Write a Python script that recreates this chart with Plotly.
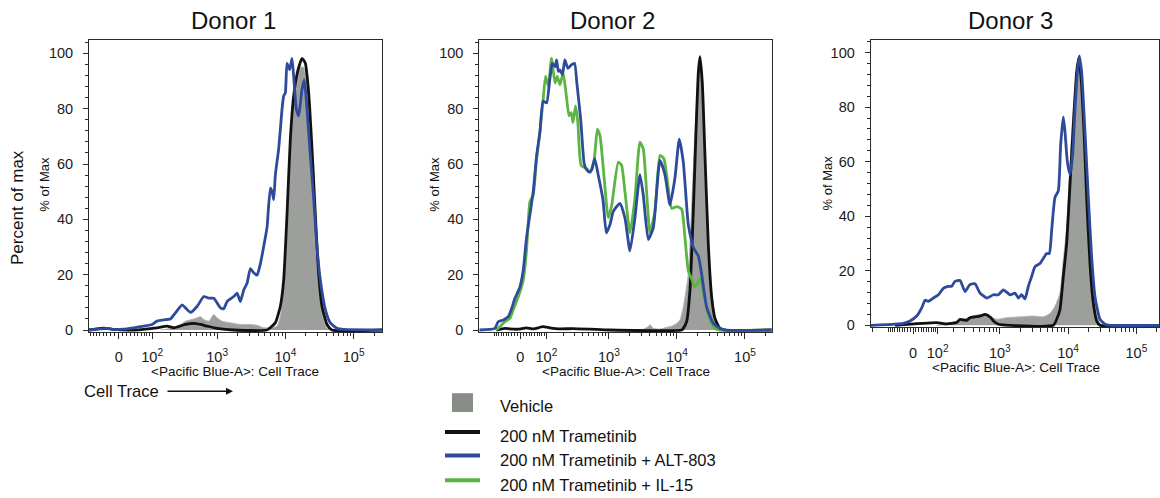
import numpy as np
import plotly.graph_objects as go

W, H = 1160, 498
FONT = "Liberation Sans, Arial, sans-serif"

# ---- transform widths (biexponential display approximated by arcsinh) ----
COF = [72.7, 100.0, 107.5]
X_RANGE = [(-86, 260000), (-188, 247000), (-211, 216500)]

donors = ["Donor 1", "Donor 2", "Donor 3"]
series_names = ["Vehicle", "200 nM Trametinib", "200 nM Trametinib + ALT-803",
                "200 nM Trametinib + IL-15"]

# ---- Donor 1 ----
d1_veh_x = [139, 226, 286, 340, 452, 570, 637, 755, 893, 999, 1182, 1565, 2193, 3072, 3845,
            4814, 6027, 7546, 8444, 9444, 10567, 11822, 13228, 14802, 16557, 18524, 20730,
            23195, 25954, 29036, 32490, 36350, 40676, 45510]
d1_veh_y = [0, 0.8, 2.0, 3.2, 4.0, 4.8, 3.8, 3.2, 5.6, 4.4, 3.2, 2.6, 2.0, 2.0, 1.7, 0.8, 0.8,
            1.4, 5.0, 14.5, 35.9, 65.6, 81.0, 89.3, 95.0, 95.0, 88.0, 74.0, 53.0, 30.0, 13.0,
            3.5, 0.6, 0]
d1_tram_x = [-86, -48, -30, -12, 38, 122, 178, 226, 340, 452, 570, 713, 999, 1751, 5386, 6376,
             7133, 8444, 9444, 10567, 11822, 13228, 15307, 17513, 19596, 21926, 24536, 27448,
             30716, 34365, 40676, 48127, 260000]
d1_tram_y = [0, 0.6, 0.6, 0.2, 0, 0.8, 1.4, 0.8, 2.0, 2.4, 2.0, 1.4, 0.6, 0, 0, 1.4, 2.6, 8.6,
             18.1, 41.8, 69.0, 84.6, 94.0, 98.2, 96.4, 85.7, 65.6, 41.8, 20.4, 8.6, 2.0, 0, 0]
d1_alt_x = [-86, -48, -30, -12, 12, 38, 69, 100, 122, 178, 201, 240, 303, 340, 407, 509, 637,
            755, 893, 1118, 1250, 1399, 1751, 1960, 2193, 2454, 2745, 3072, 3437, 3845, 4303,
            5092, 5386, 6027, 6376, 6744, 7133, 7982, 8929, 9444, 9989, 10567, 11559, 12504,
            13228, 14471, 15652, 17513, 18949, 20730, 23195, 25954, 29036, 32490, 38458, 45510,
            56960, 71320, 260000]
d1_alt_y = [0, 0.4, 0.6, 0.2, 0.3, 0.8, 1.4, 2.0, 3.2, 3.8, 4.0, 6.2, 9.1, 8.0, 6.4, 8.6, 12.1,
            11.5, 11.5, 8.0, 7.7, 10.3, 12.1, 13.3, 10.3, 14.5, 16.9, 22.2, 20.7, 19.8, 24.0,
            33.5, 37.1, 51.3, 50.1, 47.1, 56.1, 65.6, 79.8, 84.6, 85.7, 96.4, 94.1, 98.2, 91.7,
            79.8, 77.4, 86.9, 90.5, 79.8, 63.2, 47.7, 29.9, 18.1, 7.4, 2.6, 0.6, 0.2, 0]

# ---- Donor 2 ----
d2_veh_x = [1627, 3201, 3792, 4012, 4492, 5630, 7055, 8356, 9900, 11082, 12405, 14692, 16447,
            18410, 20614, 21813, 23607, 25839, 28923, 32378, 36245, 40573, 48058]
d2_veh_y = [0, 0.3, 1.2, 2.0, 0.6, 0.3, 1.0, 1.4, 2.4, 3.6, 8.3, 20.2, 44.0, 71.4, 92.9, 97.6,
            88.0, 63.0, 33.3, 14.3, 4.8, 1.2, 0]
d2_tram_x = [-90, -55, -36, -7, 21, 45, 85, 117, 178, 288, 526, 1036, 11725, 12405, 13887,
             15545, 17401, 19045, 20614, 21813, 23607, 25839, 28923, 32378, 36245, 42928, 50850,
             247000]
d2_tram_y = [0, 0.6, 0.4, 0.3, 0.8, 0.4, 1.2, 0.8, 0.4, 0.5, 0.3, 0, 0, 0.6, 3.0, 14.3, 42.9,
             71.4, 92.9, 98.8, 89.3, 63.1, 31.0, 11.9, 4.2, 0.6, 0, 0]
d2_alt_x = [-188, -97, -82, -61, -42, -30, -19, -1.7, 9.6, 21, 33, 45, 58, 71, 85, 101, 117, 130,
            146, 156, 167, 178, 196, 214, 241, 271, 305, 331, 380, 428, 465, 517, 557, 615, 688,
            817, 915, 1036, 1159, 1453, 1721, 2039, 2414, 2858, 3201, 3792, 4492, 5630, 6670,
            7898, 9355, 10834, 12405, 14692, 17401, 20614, 23079, 27350, 34257, 42928, 53800,
            247000]
d2_alt_y = [0, 0.6, 3.0, 3.6, 4.8, 7.7, 11.3, 15.5, 21.4, 33.3, 41.7, 50.0, 63.1, 71.4, 82.7,
            82.1, 90.5, 96.4, 95.2, 97.6, 93.5, 94.0, 92.3, 97.6, 94.6, 95.8, 96.4, 89.3, 75.8,
            60.1, 58.0, 57.1, 58.0, 61.9, 56.5, 47.0, 35.1, 38.1, 42.9, 45.8, 40.5, 28.6, 40.5,
            56.2, 48.8, 32.7, 36.9, 61.3, 56.2, 45.2, 55.0, 69.0, 60.7, 38.1, 29.8, 26.8, 20.2,
            8.3, 2.4, 0.6, 0, 0]
d2_il15_x = [-90, -75, -55, -36, -25, -7.3, 9.6, 21, 33, 45, 58, 71, 85, 96, 110, 126, 146, 160,
             178, 201, 227, 250, 271, 288, 316, 343, 385, 465, 526, 602, 674, 738, 826, 978, 1096,
             1373, 1537, 1721, 2039, 2414, 2858, 3201, 3584, 4012, 4752, 5630, 6447, 7465, 8356,
             9900, 11725, 13125, 14692, 16447, 18410, 21813, 25839, 30603, 36245, 42928, 247000]
d2_il15_y = [0, 1.2, 3.0, 4.2, 7.1, 11.9, 17.9, 28.6, 46.4, 48.8, 61.9, 71.4, 83.3, 91.7, 88.1,
             98.2, 89.3, 91.7, 88.7, 92.9, 84.5, 77.4, 78.6, 75.0, 81.0, 75.0, 59.5, 58.3, 57.1,
             61.3, 72.6, 70.2, 58.3, 40.5, 45.0, 60.7, 59.5, 50.0, 35.1, 47.6, 67.9, 65.5, 50.0,
             35.1, 42.9, 63.1, 61.9, 51.2, 44.0, 44.6, 43.7, 33.3, 21.4, 18.5, 15.5, 18.5, 10.7,
             3.6, 0.6, 0, 0]

# ---- Donor 3 ----
d3_veh_x = [95, 131, 222, 301, 509, 720, 901, 1262, 1978, 3100, 4341, 5435, 6434, 7616, 8519,
            9535, 10669, 11933, 13352, 14448, 15803, 17678, 19780, 22134, 24757, 27703, 31003]
d3_veh_y = [0, 0.4, 1.5, 2.4, 4.0, 3.2, 2.2, 2.8, 3.1, 3.4, 3.1, 4.3, 7.0, 11.8, 23.9, 36.0,
            59.0, 79.5, 93.4, 97.0, 90.3, 71.0, 44.4, 22.7, 8.2, 1.6, 0]
d3_tram_x = [-69, 95, 150, 222, 251, 319, 357, 428, 509, 605, 720, 805, 953, 1412, 6085, 6805,
             7616, 8519, 9535, 10669, 11933, 13352, 14448, 15803, 17286, 18700, 20920, 23408,
             26192, 29305, 216500]
d3_tram_y = [0, 1.0, 0.5, 1.0, 2.2, 1.8, 2.8, 3.1, 3.4, 4.0, 3.0, 1.6, 0.4, 0, 0, 2.2, 5.8,
             17.9, 30.0, 51.7, 73.4, 92.8, 98.2, 88.0, 68.6, 46.9, 22.7, 8.2, 1.6, 0, 0]
d3_alt_x = [-211, -69, -36, -10.9, 13.3, 31.9, 44.7, 58.1, 79.6, 103.7, 131, 160.5, 183, 208,
            251, 301, 357, 428, 509, 643, 805, 953, 1128, 1412, 1672, 1870, 2092, 2341, 2619,
            2931, 3279, 3881, 4341, 4859, 5315, 5751, 6434, 7197, 7788, 8519, 9014, 9750, 10669,
            11669, 12626, 13814, 14609, 15803, 17678, 19780, 22134, 24757, 29305, 34690, 41049,
            216500]
d3_alt_y = [0, 0.4, 0.7, 1.6, 3.4, 6.4, 9.2, 8.8, 10.0, 11.2, 13.6, 14.3, 14.3, 16.1, 16.4,
            12.4, 14.9, 15.2, 11.8, 10.0, 11.2, 11.2, 13.0, 11.2, 11.8, 10.0, 11.2, 9.7, 14.3,
            17.9, 21.5, 22.7, 24.5, 26.3, 26.3, 34.8, 46.9, 49.3, 66.2, 76.4, 71.0, 60.1, 55.3,
            62.6, 79.5, 94.0, 98.8, 92.8, 71.0, 46.9, 25.1, 10.6, 2.2, 0.4, 0, 0]

# ---- x tick labels ----
major_vals = [0, 100, 1000, 10000, 100000]
major_text = ["0", "10<sup>2</sup>", "10<sup>3</sup>", "10<sup>4</sup>", "10<sup>5</sup>"]
y_ticks = [0, 20, 40, 60, 80, 100]

COL_VEH_FILL = "#9c9f9c"
COL_VEH_LINE = "#b4b7b4"
COL_TRAM = "#111111"
COL_ALT = "#2d4a9b"
COL_IL15 = "#5bb543"
AX_COL = "#2a2a2a"
CLEAR = "rgba(0,0,0,0)"

LN10 = np.log(10)


def biex(v, w):
    return np.arcsinh(np.asarray(v, dtype=float) / w) / LN10


def px(x):
    return x / W


def py(y):
    return 1 - y / H


panels = [
    dict(veh=(d1_veh_x, d1_veh_y), tram=(d1_tram_x, d1_tram_y), alt=(d1_alt_x, d1_alt_y), il15=None),
    dict(veh=(d2_veh_x, d2_veh_y), tram=(d2_tram_x, d2_tram_y), alt=(d2_alt_x, d2_alt_y),
         il15=(d2_il15_x, d2_il15_y)),
    dict(veh=(d3_veh_x, d3_veh_y), tram=(d3_tram_x, d3_tram_y), alt=(d3_alt_x, d3_alt_y), il15=None),
]

# layout geometry (pixels)
x_dom_px = [(89, 382), (479.3, 771.7), (870.7, 1159.3)]
y_dom_px = [(40, 336), (40, 336), (40, 331.2)]
y_top = [105.0, 105.0, 104.8]

fig = go.Figure()
LINE_SHAPE = dict(shape="spline", smoothing=0.5)
LW = 2.8

for i, p in enumerate(panels):
    w = COF[i]
    xa = "x" if i == 0 else f"x{i+1}"
    ya = "y" if i == 0 else f"y{i+1}"
    vx, vy = p["veh"]
    fig.add_trace(go.Scatter(x=biex(vx, w), y=vy, mode="lines", fill="tozeroy",
                             fillcolor=COL_VEH_FILL, line=dict(color=COL_VEH_LINE, width=1, **LINE_SHAPE),
                             name=series_names[0], showlegend=False, xaxis=xa, yaxis=ya))
    tx, ty = p["tram"]
    fig.add_trace(go.Scatter(x=biex(tx, w), y=ty, mode="lines",
                             line=dict(color=COL_TRAM, width=LW, **LINE_SHAPE),
                             name=series_names[1], showlegend=False, xaxis=xa, yaxis=ya))
    if p["il15"] is not None:
        gx, gy = p["il15"]
        fig.add_trace(go.Scatter(x=biex(gx, w), y=gy, mode="lines",
                                 line=dict(color=COL_IL15, width=LW, **LINE_SHAPE),
                                 name=series_names[3], showlegend=False, xaxis=xa, yaxis=ya))
    bx, by = p["alt"]
    fig.add_trace(go.Scatter(x=biex(bx, w), y=by, mode="lines",
                             line=dict(color=COL_ALT, width=LW, **LINE_SHAPE),
                             name=series_names[2], showlegend=False, xaxis=xa, yaxis=ya))

    lo, hi = X_RANGE[i]
    minor_vals = []
    for k in range(1, 6):
        for m in range(1, 10):
            for s in (1, -1):
                v = s * m * 10 ** k
                if lo < v < hi and v not in major_vals:
                    minor_vals.append(v)
    xd = x_dom_px[i]
    yd = y_dom_px[i]
    xr = [float(biex(lo, w)), float(biex(hi, w))]
    yr = [-0.7, y_top[i]]
    xmaj = [float(v) for v in biex(major_vals, w)]
    xmin = [float(v) for v in biex(minor_vals, w)]
    tickfont = dict(family=FONT, size=14.5, color="#1a1a1a")

    # main axes: frame + tick labels (ticks transparent, longer to push labels out)
    xkey = "xaxis" if i == 0 else f"xaxis{i+1}"
    ykey = "yaxis" if i == 0 else f"yaxis{i+1}"
    fig.update_layout(**{
        xkey: dict(domain=[px(xd[0]), px(xd[1])], anchor=ya, range=xr,
                   showline=True, linecolor=AX_COL, linewidth=1, mirror=True,
                   showgrid=False, zeroline=False,
                   tickmode="array", tickvals=xmaj, ticktext=major_text,
                   ticks="outside", ticklen=12, tickcolor=CLEAR, tickfont=tickfont),
        ykey: dict(domain=[py(yd[1]), py(yd[0])], anchor=xa, range=yr,
                   showline=True, linecolor=AX_COL, linewidth=1, mirror=True,
                   showgrid=False, zeroline=False,
                   tickmode="array", tickvals=y_ticks,
                   ticks="outside", ticklen=12, tickcolor=CLEAR, tickfont=tickfont),
    })
    # overlay axes: visible major + minor tick marks
    xo_name, yo_name = f"x{i+4}", f"y{i+4}"
    fig.update_layout(**{
        f"xaxis{i+4}": dict(overlaying=xa, anchor=yo_name, range=xr, showline=False,
                            showgrid=False, zeroline=False, showticklabels=False,
                            tickmode="array", tickvals=xmaj, ticks="outside", ticklen=6,
                            tickwidth=1, tickcolor=AX_COL,
                            minor=dict(tickmode="array", tickvals=xmin, ticklen=3.5, tickwidth=1,
                                       tickcolor=AX_COL, ticks="outside")),
        f"yaxis{i+4}": dict(overlaying=ya, anchor=xo_name, range=yr, showline=False,
                            showgrid=False, zeroline=False, showticklabels=False,
                            tickmode="array", tickvals=y_ticks, ticks="outside", ticklen=5,
                            tickwidth=1, tickcolor=AX_COL,
                            minor=dict(dtick=4, tick0=0, ticklen=3, tickwidth=1, tickcolor=AX_COL,
                                       ticks="outside")),
    })
    # invisible carrier so the tick-mark axes are drawn
    fig.add_trace(go.Scatter(x=[xr[0]], y=[yr[0]], mode="markers", marker=dict(opacity=0),
                             hoverinfo="skip", showlegend=False, xaxis=xo_name, yaxis=yo_name))

annotations = []
title_pos = [(233.3, 21), (612.5, 21), (1010.8, 21)]
for t, (x, y) in zip(donors, title_pos):
    annotations.append(dict(text=t, x=px(x), y=py(y), xref="paper", yref="paper",
                            xanchor="center", yanchor="middle", showarrow=False,
                            font=dict(family=FONT, size=24, color="#111111")))
ylab_pos = [(45, 187), (435, 187), (827.7, 185)]
for (x, y) in ylab_pos:
    annotations.append(dict(text="% of Max", x=px(x), y=py(y), xref="paper", yref="paper",
                            xanchor="center", yanchor="middle", showarrow=False, textangle=-90,
                            font=dict(family=FONT, size=13, color="#111111")))
xlab_pos = [(235.3, 376.5), (626, 376.5), (1015.8, 372)]
for (x, y) in xlab_pos:
    annotations.append(dict(text="&lt;Pacific Blue-A&gt;: Cell Trace", x=px(x), y=py(y),
                            xref="paper", yref="paper", xanchor="center", yanchor="middle",
                            showarrow=False, font=dict(family=FONT, size=13.5, color="#111111")))
annotations.append(dict(text="Percent of max", x=px(17.5), y=py(210), xref="paper", yref="paper",
                        xanchor="center", yanchor="middle", showarrow=False, textangle=-90,
                        font=dict(family=FONT, size=17, color="#111111")))
annotations.append(dict(text="Cell Trace", x=px(121.2), y=py(396), xref="paper", yref="paper",
                        xanchor="center", yanchor="middle", showarrow=False,
                        font=dict(family=FONT, size=16.6, color="#111111")))
annotations.append(dict(text="", x=px(233), y=py(396), xref="paper", yref="paper",
                        ax=-67, ay=0, axref="pixel", ayref="pixel", showarrow=True,
                        arrowhead=2, arrowsize=1, arrowwidth=1.4, arrowcolor="#111111"))

# legend (drawn manually)
leg_text_y = [411, 441, 466, 491]
for name, y in zip(series_names, leg_text_y):
    annotations.append(dict(text=name, x=px(498), y=py(y), xref="paper", yref="paper",
                            xanchor="left", yanchor="middle", showarrow=False,
                            font=dict(family=FONT, size=16.5, color="#111111")))
shapes = [dict(type="rect", xref="paper", yref="paper", x0=px(452), x1=px(473), y0=py(417), y1=py(398),
               fillcolor="#888d88", line=dict(width=0))]
for col, y in zip([COL_TRAM, COL_ALT, COL_IL15], [437.3, 461, 486]):
    shapes.append(dict(type="line", xref="paper", yref="paper", x0=px(445), x1=px(480),
                       y0=py(y), y1=py(y), line=dict(color=col, width=4)))

fig.update_layout(width=W, height=H, margin=dict(l=0, r=0, t=0, b=0),
                  paper_bgcolor="white", plot_bgcolor="white",
                  font=dict(family=FONT, color="#111111"),
                  annotations=annotations, shapes=shapes, showlegend=False)

fig.write_html("out.html")
